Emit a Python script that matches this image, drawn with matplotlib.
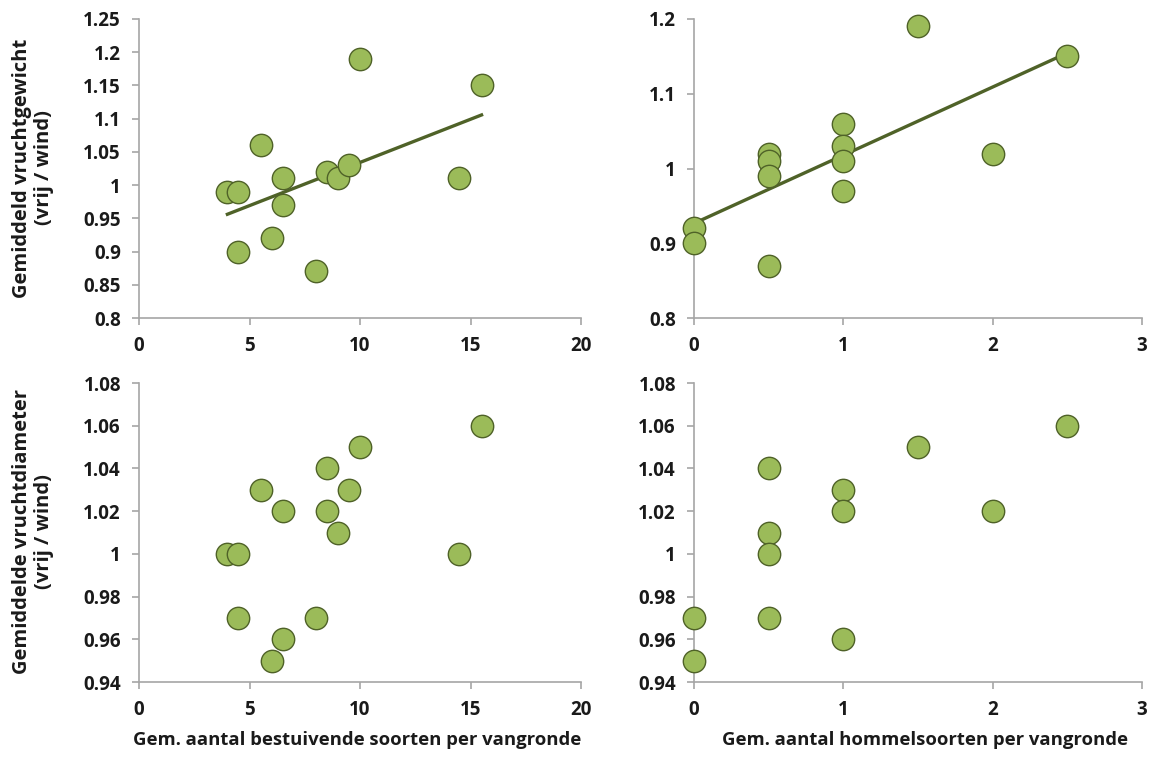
import numpy as np
import matplotlib.pyplot as plt

plt.rcParams['font.family'] = ['Open Sans', 'DejaVu Sans']

# data
bestuivers_gewicht_x = [4, 4.5, 4.5, 5.5, 6, 6.5, 6.5, 8, 8.5, 9, 9.5, 10, 14.5, 15.5]
bestuivers_gewicht_y = [0.99, 0.99, 0.90, 1.06, 0.92, 1.01, 0.97, 0.87, 1.02, 1.01, 1.03, 1.19, 1.01, 1.15]

hommels_gewicht_x = [0, 0, 0.5, 0.5, 0.5, 0.5, 1, 1, 1, 1, 1.5, 2, 2.5]
hommels_gewicht_y = [0.92, 0.90, 1.02, 1.01, 0.99, 0.87, 1.06, 1.03, 1.01, 0.97, 1.19, 1.02, 1.15]

bestuivers_diam_x = [4, 4.5, 4.5, 5.5, 6, 6.5, 6.5, 8, 8.5, 8.5, 9, 9.5, 10, 14.5, 15.5]
bestuivers_diam_y = [1.00, 1.00, 0.97, 1.03, 0.95, 1.02, 0.96, 0.97, 1.04, 1.02, 1.01, 1.03, 1.05, 1.00, 1.06]

hommels_diam_x = [0, 0, 0.5, 0.5, 0.5, 0.5, 1, 1, 1, 1.5, 2, 2.5]
hommels_diam_y = [0.97, 0.95, 1.04, 1.01, 1.00, 0.97, 1.03, 1.02, 0.96, 1.05, 1.02, 1.06]

ylabel_top = 'Gemiddeld vruchtgewicht\n(vrij / wind)'
ylabel_bottom = 'Gemiddelde vruchtdiameter\n(vrij / wind)'
xlabel_left = 'Gem. aantal bestuivende soorten per vangronde'
xlabel_right = 'Gem. aantal hommelsoorten per vangronde'

FILL = '#9BBB59'
EDGE = '#4F6228'
SPINE = '#A6A6A6'
TEXT = '#1a1a1a'


def style_axes(ax, xlim, xticks, ylim, yticks, yfmt):
    ax.set_xlim(*xlim)
    ax.set_ylim(*ylim)
    ax.set_xticks(xticks)
    ax.set_yticks(yticks)
    ax.set_yticklabels([yfmt(v) for v in yticks])
    for s in ['top', 'right']:
        ax.spines[s].set_visible(False)
    for s in ['left', 'bottom']:
        ax.spines[s].set_color(SPINE)
        ax.spines[s].set_linewidth(1.2)
    ax.tick_params(direction='out', length=5, width=1.2, color=SPINE,
                   labelsize=13.5, labelcolor=TEXT)
    ax.tick_params(axis='x', pad=8)
    ax.tick_params(axis='y', pad=8)
    for lab in ax.get_xticklabels() + ax.get_yticklabels():
        lab.set_fontweight('bold')


def fmt(v):
    return ('%.2f' % v).rstrip('0').rstrip('.')


def scatter(ax, x, y, trend=False):
    if trend:
        k, b = np.polyfit(x, y, 1)
        xs = np.array([min(x), max(x)])
        ax.plot(xs, k * xs + b, color=EDGE, lw=2.4, zorder=3)
    ax.scatter(x, y, s=260, c=FILL, edgecolors=EDGE, linewidths=1.0,
               zorder=4, clip_on=False)


fig = plt.figure(figsize=(11.53, 7.58), dpi=100)
W, H = 1153, 758


def add_ax(left, right, top, bottom):
    return fig.add_axes([left / W, 1 - bottom / H, (right - left) / W, (bottom - top) / H])


ax1 = add_ax(139, 581, 19, 318)
ax2 = add_ax(694, 1142, 19, 318)
ax3 = add_ax(139, 581, 383, 682)
ax4 = add_ax(694, 1142, 383, 682)

scatter(ax1, bestuivers_gewicht_x, bestuivers_gewicht_y, trend=True)
style_axes(ax1, (0, 20), [0, 5, 10, 15, 20], (0.8, 1.25),
           np.round(np.arange(0.8, 1.2501, 0.05), 2), fmt)

scatter(ax2, hommels_gewicht_x, hommels_gewicht_y, trend=True)
style_axes(ax2, (0, 3), [0, 1, 2, 3], (0.8, 1.2),
           np.round(np.arange(0.8, 1.2001, 0.1), 2), fmt)

scatter(ax3, bestuivers_diam_x, bestuivers_diam_y)
style_axes(ax3, (0, 20), [0, 5, 10, 15, 20], (0.94, 1.08),
           np.round(np.arange(0.94, 1.0801, 0.02), 2), fmt)

scatter(ax4, hommels_diam_x, hommels_diam_y)
style_axes(ax4, (0, 3), [0, 1, 2, 3], (0.94, 1.08),
           np.round(np.arange(0.94, 1.0801, 0.02), 2), fmt)

fig.text(33 / W, 1 - 168 / H, ylabel_top, rotation=90, ha='center', va='center',
         fontsize=14.5, fontweight='bold', color=TEXT, linespacing=1.1)
fig.text(33 / W, 1 - 532 / H, ylabel_bottom, rotation=90, ha='center', va='center',
         fontsize=14.5, fontweight='bold', color=TEXT, linespacing=1.1)
fig.text(357 / W, 1 - 740 / H, xlabel_left, ha='center', va='center',
         fontsize=13.3, fontweight='bold', color=TEXT)
fig.text(925 / W, 1 - 740 / H, xlabel_right, ha='center', va='center',
         fontsize=13.3, fontweight='bold', color=TEXT)

fig.savefig('out.png', dpi=100)
